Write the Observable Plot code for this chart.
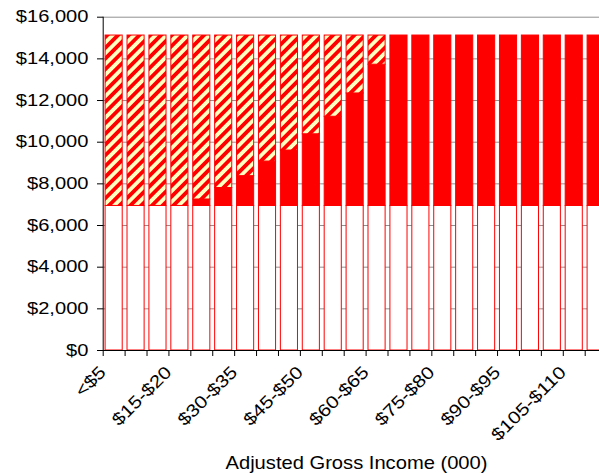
<!DOCTYPE html>
<html><head><meta charset="utf-8">
<script src="https://cdn.jsdelivr.net/npm/d3@7"></script>
<script src="https://cdn.jsdelivr.net/npm/@observablehq/plot@0.6"></script>
<style>
html,body{margin:0;padding:0;background:#fff;overflow:hidden}
svg{display:block}
</style>
</head><body><div id="chart"></div>
<script>
const categories = ["<$5","$5-$10","$10-$15","$15-$20","$20-$25","$25-$30","$30-$35","$35-$40","$40-$45","$45-$50","$50-$55","$55-$60","$60-$65","$65-$70","$70-$75","$75-$80","$80-$85","$85-$90","$90-$95","$95-$100","$100-$105","$105-$110","$110-$115"];
const baseValues = [6940,6940,6940,6940,6940,6940,6940,6940,6940,6940,6940,6940,6940,6940,6940,6940,6940,6940,6940,6940,6940,6940,6940];
const redTopValues = [6940,6940,6940,6940,7250,7800,8370,9070,9600,10380,11220,12340,13720,15120,15120,15120,15120,15120,15120,15120,15120,15120,15120];
const totalValues = [15120,15120,15120,15120,15120,15120,15120,15120,15120,15120,15120,15120,15120,15120,15120,15120,15120,15120,15120,15120,15120,15120,15120];
const yTicks = [0,2000,4000,6000,8000,10000,12000,14000,16000];
const labelStep = 3;
const xTitle = "Adjusted Gross Income (000)";

const RED = "#FF0000", PALE = "#FFFFC0";
const rows = categories.map((c, i) => ({i, c, base: baseValues[i], red: redTopValues[i], total: totalValues[i]}));
const barOpts = {x1: d => d.i, x2: d => d.i + 1, insetLeft: 2.4, insetRight: 2.4, stroke: RED, strokeWidth: 1};

const svg = Plot.plot({
  width: 599, height: 474,
  marginLeft: 103, marginRight: 0, marginTop: 16.7, marginBottom: 124,
  x: {type: "linear", domain: [0, categories.length], range: [102.7, 606.6]},
  y: {domain: [0, 16000], range: [350, 16.7]},
  style: {fontFamily: "'Liberation Sans', Arial, sans-serif", fontSize: "16px", color: "#000", background: "#fff"},
  marks: [
    Plot.gridY(yTicks, {stroke: "#909090", strokeOpacity: 1, strokeWidth: 1}),
    Plot.rect(rows, {...barOpts, y1: 0, y2: "base", fill: "#fff"}),
    Plot.rect(rows.filter(d => d.red > d.base), {...barOpts, y1: "base", y2: "red", fill: RED}),
    Plot.rect(rows.filter(d => d.total > d.red), {...barOpts, y1: "red", y2: "total", fill: "url(#hatch)"}),
    Plot.ruleX([0], {y1: 0, y2: 16000, stroke: "#000"}),
    Plot.ruleY([0], {x1: 0, x2: categories.length, stroke: "#000"}),
    Plot.axisY({ticks: yTicks, tickSize: 6, tickPadding: 9, tickFormat: d => "$" + d3.format(",")(d), label: null, fontSize: 16.5}),
    Plot.axisX({ticks: d3.range(0, categories.length + 1), tickSize: 6, tickFormat: () => "", label: null}),
    Plot.text(rows.filter(d => d.i % labelStep === 0), {x: d => d.i + 0.5, y: 0, text: "c", rotate: -45, textAnchor: "end", lineAnchor: "top", dx: -16, dy: 14, fontSize: 17.5, fill: "#000"}),
    Plot.text([xTitle], {text: d => d, frameAnchor: "bottom", lineAnchor: "bottom", dx: 5, dy: 118.5, fontSize: 19, fill: "#000"})
  ]
});

// hatch pattern
const defs = d3.select(svg).insert("defs", ":first-child");
const pat = defs.append("pattern").attr("id", "hatch").attr("patternUnits", "userSpaceOnUse")
  .attr("width", 7.6).attr("height", 7.6).attr("patternTransform", "rotate(45)");
pat.append("rect").attr("width", 7.6).attr("height", 7.6).attr("fill", PALE);
pat.append("rect").attr("width", 3.8).attr("height", 7.6).attr("fill", RED);

// horizontal stretch of tick labels (as in the reference)
function stretch(el, s) {
  const x = parseFloat(el.getAttribute("x")) || 0;
  const t = el.getAttribute("transform") || "";
  el.setAttribute("transform", `${t} translate(${x},0) scale(${s},1) translate(${-x},0)`);
}
svg.querySelectorAll("text").forEach(el => {
  const txt = el.textContent;
  if (txt === xTitle) {
    el.setAttribute("textLength", 262);
    el.setAttribute("lengthAdjust", "spacingAndGlyphs");
  } else if (txt.startsWith("$") && /^\$[\d,]+$/.test(txt)) {
    stretch(el, 1.22);
  } else if (txt !== "") {
    stretch(el, 1.18);
  }
});
document.getElementById("chart").appendChild(svg);
</script>
</body></html>
